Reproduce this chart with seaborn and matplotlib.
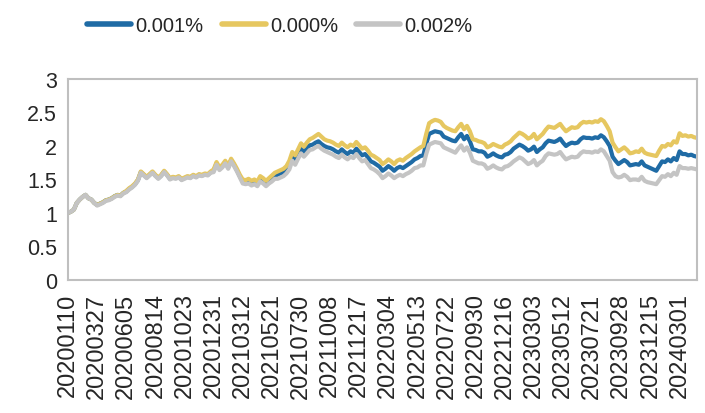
import numpy as np
import pandas as pd
import matplotlib
matplotlib.use("Agg")
import matplotlib.pyplot as plt
import seaborn as sns

# tick labels (one every 10 weekly points)
tick_labels = ['20200110', '20200327', '20200605', '20200814', '20201023', '20201231',
               '20210312', '20210521', '20210730', '20211008', '20211217', '20220304',
               '20220513', '20220722', '20220930', '20221216', '20230303', '20230512',
               '20230721', '20230928', '20231215', '20240301']

# net value, 0.000%
s000 = [1.00, 1.02, 1.05, 1.15, 1.20, 1.24, 1.27, 1.22, 1.20, 1.15,
        1.12, 1.14, 1.16, 1.19, 1.20, 1.22, 1.25, 1.27, 1.26, 1.30,
        1.33, 1.37, 1.40, 1.44, 1.50, 1.62, 1.58, 1.54, 1.58, 1.62,
        1.57, 1.53, 1.57, 1.63, 1.58, 1.52, 1.54, 1.53, 1.55, 1.51,
        1.53, 1.55, 1.54, 1.57, 1.55, 1.58, 1.57, 1.59, 1.58, 1.62,
        1.65, 1.76, 1.68, 1.72, 1.78, 1.70, 1.81, 1.74, 1.66, 1.57,
        1.50, 1.49, 1.51, 1.48, 1.50, 1.47, 1.55, 1.52, 1.48, 1.52,
        1.56, 1.60, 1.62, 1.64, 1.66, 1.70, 1.78, 1.91, 1.86, 1.95,
        2.04, 1.99, 2.05, 2.10, 2.12, 2.15, 2.18, 2.14, 2.10, 2.08,
        2.07, 2.05, 2.02, 2.00, 2.05, 2.01, 1.98, 2.02, 2.00, 2.06,
        2.01, 1.96, 1.98, 1.93, 1.87, 1.85, 1.82, 1.79, 1.73, 1.76,
        1.80, 1.77, 1.73, 1.78, 1.80, 1.78, 1.82, 1.85, 1.88, 1.92,
        1.95, 1.98, 2.00, 2.18, 2.34, 2.37, 2.39, 2.38, 2.36, 2.30,
        2.27, 2.25, 2.23, 2.22, 2.28, 2.33, 2.25, 2.30, 2.22, 2.10,
        2.09, 2.07, 2.06, 2.04, 1.98, 2.00, 2.03, 2.01, 1.99, 1.98,
        2.02, 2.04, 2.07, 2.12, 2.16, 2.20, 2.18, 2.15, 2.11, 2.13,
        2.18, 2.10, 2.14, 2.18, 2.24, 2.29, 2.28, 2.27, 2.30, 2.33,
        2.27, 2.22, 2.25, 2.28, 2.27, 2.28, 2.33, 2.36, 2.35, 2.36,
        2.35, 2.37, 2.36, 2.40, 2.37, 2.30, 2.22, 2.05, 1.98, 1.92,
        1.95, 1.98, 1.94, 1.89, 1.90, 1.92, 1.91, 1.96, 1.90, 1.88,
        1.87, 1.86, 1.85, 1.93, 2.00, 1.99, 2.03, 2.01, 2.07, 2.05,
        2.19, 2.15, 2.16, 2.14, 2.15, 2.13, 2.12]

# net value, 0.001%
s001 = [1.00, 1.02, 1.05, 1.15, 1.20, 1.24, 1.27, 1.22, 1.20, 1.15,
        1.12, 1.14, 1.16, 1.19, 1.20, 1.22, 1.25, 1.27, 1.26, 1.30,
        1.32, 1.36, 1.39, 1.43, 1.49, 1.61, 1.57, 1.53, 1.57, 1.61,
        1.56, 1.52, 1.56, 1.62, 1.57, 1.51, 1.53, 1.52, 1.54, 1.50,
        1.52, 1.54, 1.53, 1.56, 1.54, 1.57, 1.56, 1.58, 1.57, 1.61,
        1.63, 1.74, 1.66, 1.70, 1.76, 1.68, 1.79, 1.72, 1.64, 1.55,
        1.47, 1.46, 1.48, 1.45, 1.47, 1.44, 1.52, 1.49, 1.45, 1.49,
        1.52, 1.56, 1.57, 1.59, 1.61, 1.65, 1.72, 1.85, 1.79, 1.88,
        1.96, 1.91, 1.96, 2.01, 2.02, 2.05, 2.07, 2.03, 2.00, 1.98,
        1.97, 1.95, 1.92, 1.90, 1.95, 1.91, 1.88, 1.92, 1.90, 1.96,
        1.91, 1.86, 1.88, 1.83, 1.77, 1.75, 1.72, 1.69, 1.63, 1.66,
        1.70, 1.67, 1.63, 1.67, 1.69, 1.67, 1.70, 1.73, 1.76, 1.80,
        1.82, 1.85, 1.86, 2.03, 2.18, 2.20, 2.22, 2.21, 2.20, 2.14,
        2.12, 2.10, 2.08, 2.07, 2.13, 2.18, 2.10, 2.15, 2.07, 1.95,
        1.94, 1.92, 1.92, 1.90, 1.84, 1.86, 1.89, 1.86, 1.84, 1.83,
        1.87, 1.88, 1.91, 1.96, 1.99, 2.02, 2.00, 1.97, 1.93, 1.95,
        1.99, 1.91, 1.95, 1.98, 2.04, 2.08, 2.07, 2.06, 2.08, 2.11,
        2.05, 2.00, 2.03, 2.05, 2.04, 2.05, 2.10, 2.13, 2.12, 2.12,
        2.11, 2.13, 2.12, 2.16, 2.13, 2.07, 2.00, 1.84, 1.78, 1.73,
        1.76, 1.79, 1.76, 1.71, 1.72, 1.73, 1.72, 1.77, 1.71, 1.69,
        1.67, 1.65, 1.63, 1.70, 1.77, 1.76, 1.80, 1.77, 1.82, 1.79,
        1.92, 1.88, 1.88, 1.86, 1.87, 1.85, 1.84]

# net value, 0.002%
s002 = [1.00, 1.02, 1.05, 1.15, 1.20, 1.24, 1.27, 1.22, 1.20, 1.15,
        1.11, 1.13, 1.15, 1.18, 1.19, 1.21, 1.24, 1.26, 1.25, 1.29,
        1.31, 1.35, 1.38, 1.42, 1.48, 1.60, 1.56, 1.52, 1.56, 1.60,
        1.55, 1.51, 1.55, 1.61, 1.56, 1.50, 1.52, 1.51, 1.53, 1.49,
        1.51, 1.53, 1.52, 1.55, 1.53, 1.56, 1.55, 1.57, 1.56, 1.60,
        1.61, 1.72, 1.64, 1.68, 1.74, 1.66, 1.77, 1.70, 1.62, 1.53,
        1.44, 1.43, 1.44, 1.41, 1.43, 1.40, 1.47, 1.44, 1.40, 1.44,
        1.47, 1.51, 1.51, 1.53, 1.55, 1.59, 1.65, 1.78, 1.72, 1.81,
        1.89, 1.84, 1.89, 1.94, 1.95, 1.98, 2.00, 1.96, 1.93, 1.91,
        1.89, 1.87, 1.84, 1.82, 1.87, 1.83, 1.80, 1.84, 1.82, 1.88,
        1.82, 1.77, 1.79, 1.73, 1.67, 1.65, 1.62, 1.58, 1.52, 1.55,
        1.59, 1.56, 1.52, 1.55, 1.57, 1.55, 1.58, 1.60, 1.63, 1.67,
        1.68, 1.71, 1.71, 1.88, 2.02, 2.04, 2.06, 2.05, 2.04, 1.98,
        1.96, 1.94, 1.92, 1.90, 1.96, 2.01, 1.93, 1.98, 1.90, 1.78,
        1.76, 1.74, 1.74, 1.72, 1.66, 1.68, 1.71, 1.68, 1.66, 1.65,
        1.69, 1.70, 1.73, 1.77, 1.80, 1.83, 1.81, 1.77, 1.73, 1.75,
        1.79, 1.71, 1.75, 1.78, 1.85, 1.89, 1.88, 1.87, 1.88, 1.91,
        1.85, 1.80, 1.82, 1.84, 1.83, 1.84, 1.89, 1.92, 1.91, 1.91,
        1.90, 1.92, 1.91, 1.95, 1.92, 1.85, 1.78, 1.61, 1.55, 1.53,
        1.54, 1.57, 1.54, 1.49, 1.50, 1.50, 1.49, 1.54, 1.48, 1.46,
        1.45, 1.44, 1.43, 1.49, 1.55, 1.54, 1.58, 1.55, 1.60, 1.57,
        1.70, 1.67, 1.67, 1.66, 1.67, 1.66, 1.65]

series_names = ['0.001%', '0.000%', '0.002%']
colors = ['#1F6BA5', '#E6C760', '#C4C4C4']

df = pd.DataFrame({'0.001%': s001, '0.000%': s000, '0.002%': s002})
df['idx'] = np.arange(len(df))
long_df = df.melt(id_vars='idx', var_name='series', value_name='value')

sns.set_style('white')
plt.rcParams['font.family'] = ['Liberation Sans', 'DejaVu Sans']

fig = plt.figure(figsize=(7.05, 4.14), dpi=100)
ax = fig.add_axes([0.0965, 0.3213, 0.8922, 0.4855])

sns.lineplot(data=long_df, x='idx', y='value', hue='series', hue_order=series_names,
             palette=colors, linewidth=3, ax=ax)

ax.set_xlim(0, len(df) - 1)
ax.set_ylim(0, 3)
ax.set_yticks(np.arange(0, 3.01, 0.5))
ax.set_yticklabels(['0', '0.5', '1', '1.5', '2', '2.5', '3'], fontsize=15.5)
ax.set_xticks(np.arange(0, len(tick_labels) * 10, 10))
ax.set_xticklabels(tick_labels, rotation=90, fontsize=17)
ax.set_xlabel('')
ax.set_ylabel('')
ax.tick_params(axis='y', length=4, color='#BFBFBF', width=1.2, pad=4)
ax.tick_params(axis='x', length=0, pad=9)
for sp in ax.spines.values():
    sp.set_color('#BFBFBF')
    sp.set_linewidth(1.5)

ax.get_legend().remove()
handles, labels = ax.get_legend_handles_labels()
leg = fig.legend(handles, labels, loc='center left', bbox_to_anchor=(87 / 705, 1 - 27 / 414),
                 ncol=3, frameon=False, borderpad=0, borderaxespad=0, fontsize=14.5,
                 handlelength=2.2, handletextpad=0.2, columnspacing=0.9)
for line in leg.get_lines():
    line.set_linewidth(4)
    line.set_solid_capstyle('round')

fig.savefig('out.png', dpi=100)
